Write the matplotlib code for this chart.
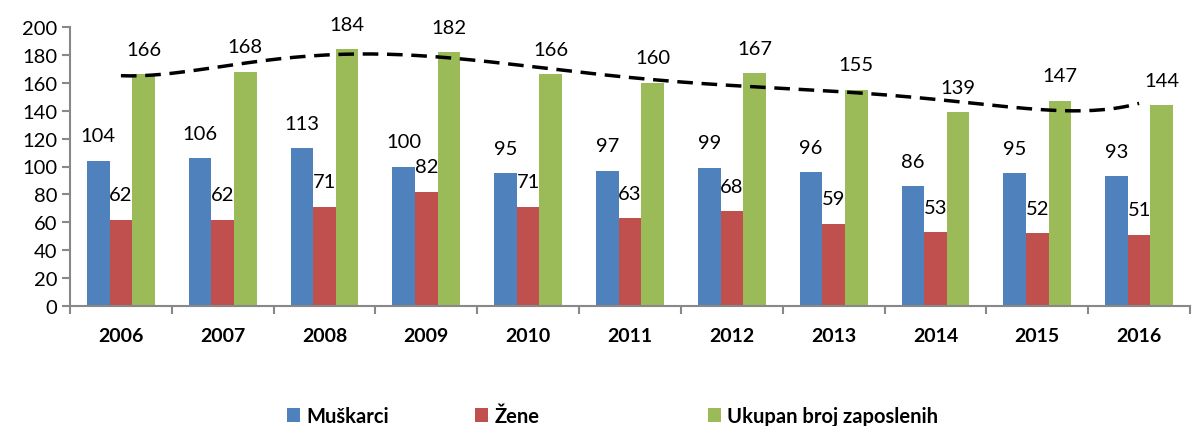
import matplotlib.pyplot as plt
import numpy as np

years = ["2006", "2007", "2008", "2009", "2010", "2011", "2012", "2013", "2014", "2015", "2016"]
muskarci = [104, 106, 113, 100, 95, 97, 99, 96, 86, 95, 93]
zene = [62, 62, 71, 82, 71, 63, 68, 59, 53, 52, 51]
ukupno = [166, 168, 184, 182, 166, 160, 167, 155, 139, 147, 144]
names = ["Muškarci", "Žene", "Ukupan broj zaposlenih"]
colors = ["#4F81BD", "#C0504D", "#9BBB59"]

plt.rcParams['font.family'] = ['Lato', 'DejaVu Sans']

fig = plt.figure(figsize=(11.97, 4.27), dpi=100)
ax = fig.add_axes([70/1197, 120/427, 1120/1197, 279/427])

x = np.arange(len(years))
w = 1/4.5
series = [muskarci, zene, ukupno]
bars = []
for i, vals in enumerate(series):
    pos = x + (i - 1) * w
    bars.append(ax.bar(pos, vals, w, color=colors[i], zorder=2))
    for px, v in zip(pos, vals):
        ax.annotate(str(v), (px, v), xytext=(0, 18), textcoords="offset points",
                    ha="center", va="center", fontsize=14.5, zorder=4)

# polynomial trendline of the totals, like the Excel original
coef = np.polyfit(x, ukupno, 6)
xs = np.linspace(x[0], x[-1], 200)
ax.plot(xs, np.polyval(coef, xs), color="black", lw=2.5, dashes=(4.5, 2.5), zorder=3)

ax.set_xlim(-0.5, len(years) - 0.5)
ax.set_ylim(0, 200)
ax.set_yticks(range(0, 201, 20))
ax.set_xticks(np.arange(-0.5, len(years), 1))
ax.set_xticklabels([])
ax.set_xticks(x, minor=True)
ax.set_xticklabels(years, minor=True, fontsize=14, fontweight="bold")
ax.tick_params(axis="x", which="minor", length=0, pad=15)
ax.tick_params(axis="x", which="major", length=6, color="#888888", width=1.5)
ax.tick_params(axis="y", length=6, color="#888888", width=1.5, labelsize=14.5, pad=3)
for s in ["top", "right"]:
    ax.spines[s].set_visible(False)
for s in ["left", "bottom"]:
    ax.spines[s].set_color("#888888")
    ax.spines[s].set_linewidth(1.5)

# one legend entry per box, placed like the original
for b, name, lx in zip(bars, names, [287, 475, 708]):
    fig.legend([b], [name], loc="center left", bbox_to_anchor=(lx/1197, 10/427),
               frameon=False, prop={"size": 14.5, "weight": "bold"},
               handlelength=0.65, handleheight=0.65, handletextpad=0.3,
               borderpad=0, borderaxespad=0)

fig.savefig("out.png", dpi=100)
